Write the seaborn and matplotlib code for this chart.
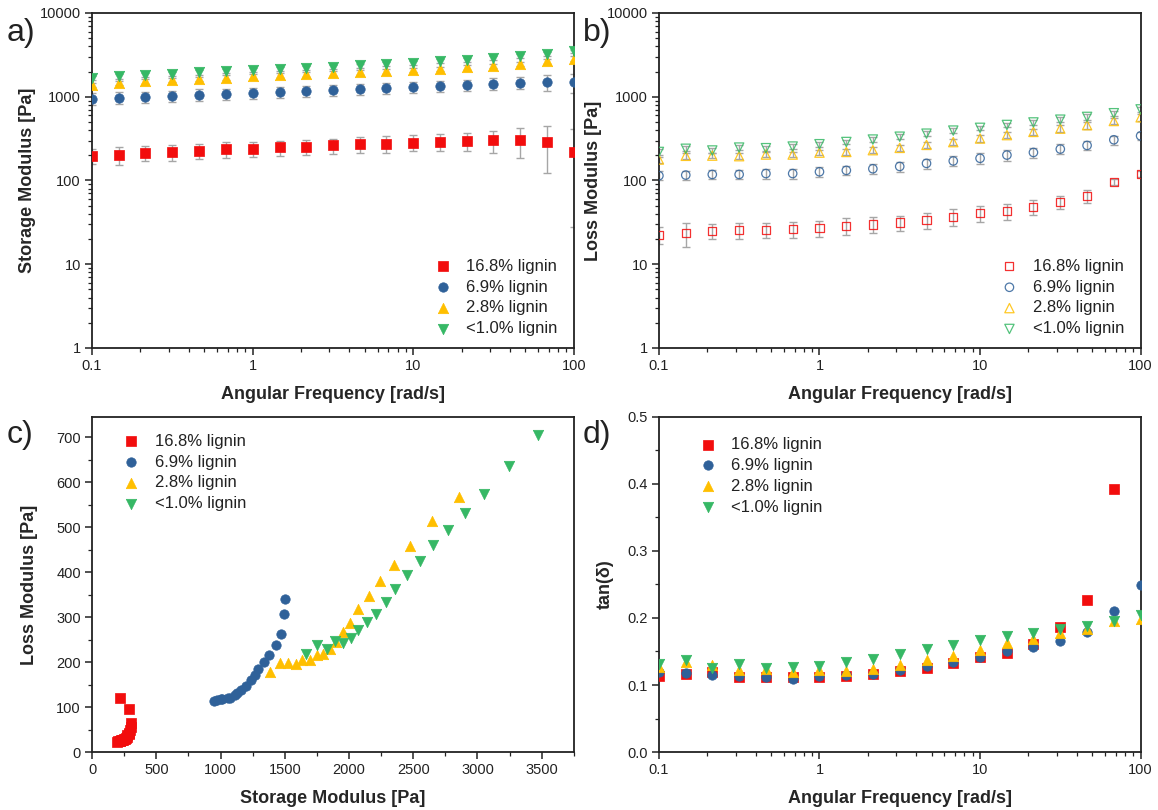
import numpy as np
import pandas as pd
import matplotlib
matplotlib.use("Agg")
import matplotlib.pyplot as plt
import seaborn as sns
from matplotlib.ticker import LogLocator, FixedLocator, MultipleLocator, NullFormatter, FuncFormatter

# ---------------- data ----------------
series = ["16.8% lignin", "6.9% lignin", "2.8% lignin", "<1.0% lignin"]
freq = [0.1, 0.147, 0.215, 0.316, 0.464, 0.681, 1.0, 1.47, 2.15, 3.16,
        4.64, 6.81, 10.0, 14.7, 21.5, 31.6, 46.4, 68.1, 100.0]

g1_168 = [197, 201, 214, 220, 226, 235, 239, 248, 253, 262, 269, 274, 284, 290, 295, 303, 303, 287, 218]
g1_69 = [949, 975, 1000, 1010, 1060, 1075, 1110, 1125, 1160, 1200, 1237, 1270, 1295, 1342, 1380, 1430, 1470, 1497, 1500]
g1_28 = [1386, 1461, 1527, 1585, 1636, 1694, 1749, 1798, 1852, 1901, 1953, 2005, 2074, 2152, 2241, 2351, 2475, 2645, 2858]
g1_10 = [1662, 1749, 1826, 1893, 1950, 2017, 2074, 2141, 2213, 2285, 2362, 2452, 2550, 2656, 2774, 2904, 3054, 3247, 3472]

g1_err_168 = [38, 48, 45, 48, 45, 50, 48, 50, 52, 55, 58, 62, 62, 65, 72, 92, 115, 165, 190]
g1_err_69 = [150, 150, 150, 150, 160, 160, 165, 170, 175, 185, 190, 200, 200, 210, 220, 230, 240, 320, 380]
g1_err_28 = [90, 90, 95, 95, 100, 100, 105, 105, 110, 110, 115, 120, 125, 130, 135, 140, 150, 160, 170]
g1_err_10 = [100, 100, 105, 105, 110, 110, 115, 120, 120, 125, 130, 135, 140, 145, 150, 160, 170, 180, 190]

g2_168 = [22.5, 23.5, 24.9, 25.3, 25.8, 26.3, 27.2, 28.8, 29.8, 31.5, 33.9, 37.1, 40.7, 43.0, 48.4, 55.5, 65.4, 96, 119]
g2_69 = [114, 116, 118, 118, 121, 121, 127, 132, 138, 147, 160, 171, 184, 201, 216, 237, 262, 306, 341]
g2_28 = [178, 197, 198, 195, 204, 204, 215, 219, 230, 245, 266, 287, 317, 348, 380, 416, 457, 513, 568]
g2_10 = [219, 239, 228, 247, 243, 254, 271, 288, 308, 333, 362, 394, 425, 460, 493, 532, 574, 635, 706]

g2_err_168 = [5, 7.5, 5, 5.5, 5.5, 5.5, 6, 6.5, 6.5, 6.5, 7.5, 8.5, 8.5, 9, 9.5, 10, 11, 8, 10]
g2_err_69 = [14, 14, 15, 15, 16, 16, 17, 17, 18, 20, 22, 24, 26, 28, 30, 32, 34, 38, 40]
g2_err_28 = [15, 15, 15, 15, 15, 15, 15, 18, 18, 20, 22, 24, 28, 30, 34, 38, 42, 46, 50]
g2_err_10 = [16, 16, 16, 16, 16, 17, 18, 19, 20, 22, 24, 26, 28, 30, 34, 38, 42, 46, 50]

tan_168 = [0.114, 0.116, 0.120, 0.112, 0.112, 0.112, 0.112, 0.114, 0.117, 0.121, 0.125, 0.133, 0.142, 0.148, 0.161, 0.187, 0.227, 0.392, 0.550]
tan_69 = [0.120, 0.118, 0.115, 0.113, 0.112, 0.109, 0.113, 0.115, 0.117, 0.122, 0.128, 0.134, 0.142, 0.150, 0.156, 0.166, 0.179, 0.210, 0.249]
tan_28 = [0.127, 0.134, 0.130, 0.122, 0.124, 0.119, 0.122, 0.121, 0.124, 0.130, 0.137, 0.143, 0.152, 0.162, 0.168, 0.177, 0.183, 0.195, 0.199]
tan_10 = [0.131, 0.138, 0.126, 0.131, 0.126, 0.127, 0.129, 0.134, 0.139, 0.146, 0.153, 0.160, 0.167, 0.173, 0.178, 0.183, 0.188, 0.196, 0.204]

# ---------------- style ----------------
colors = {"16.8% lignin": "#f20d0d", "6.9% lignin": "#2f6199",
          "2.8% lignin": "#ffbf00", "<1.0% lignin": "#36b865"}
markers = {"16.8% lignin": "s", "6.9% lignin": "o",
           "2.8% lignin": "^", "<1.0% lignin": "v"}
sizes = {"16.8% lignin": 42, "6.9% lignin": 46, "2.8% lignin": 56, "<1.0% lignin": 56}

sns.set_theme(style="ticks")
plt.rcParams["font.family"] = ["Liberation Sans", "DejaVu Sans"]
plt.rcParams.update({
    "axes.linewidth": 1.3,
    "xtick.major.width": 1.1, "ytick.major.width": 1.1,
    "xtick.minor.width": 0.9, "ytick.minor.width": 0.9,
    "xtick.major.size": 5, "ytick.major.size": 5,
    "xtick.minor.size": 3, "ytick.minor.size": 3,
    "xtick.labelsize": 10.5, "ytick.labelsize": 10.5,
    "axes.edgecolor": "#222222",
    "xtick.color": "#222222", "ytick.color": "#222222",
    "text.color": "#222222",
})

G1 = dict(zip(series, [g1_168, g1_69, g1_28, g1_10]))
G1E = dict(zip(series, [g1_err_168, g1_err_69, g1_err_28, g1_err_10]))
G2 = dict(zip(series, [g2_168, g2_69, g2_28, g2_10]))
G2E = dict(zip(series, [g2_err_168, g2_err_69, g2_err_28, g2_err_10]))
TAN = dict(zip(series, [tan_168, tan_69, tan_28, tan_10]))

rows = []
for s in series:
    for i, f in enumerate(freq):
        rows.append({"series": s, "freq": f, "G1": G1[s][i], "G1e": G1E[s][i],
                     "G2": G2[s][i], "G2e": G2E[s][i], "tan": TAN[s][i]})
df = pd.DataFrame(rows)

fig = plt.figure(figsize=(11.58, 8.10), dpi=100)
W, H = 0.416, 0.4136
ax_a = fig.add_axes([0.0795, 0.5704, W, H])
ax_b = fig.add_axes([0.569, 0.5704, W, H])
ax_c = fig.add_axes([0.0795, 0.0716, W, H])
ax_d = fig.add_axes([0.569, 0.0716, W, H])

err_kw = dict(fmt="none", ecolor="#a6a6a6", elinewidth=1.0, capsize=2.6, capthick=1.0, zorder=1)


def scatter(ax, xcol, ycol, hollow=False, zorder=3):
    for s in series:
        d = df[df["series"] == s]
        if hollow:
            sns.scatterplot(data=d, x=xcol, y=ycol, ax=ax,
                            marker=markers[s], s=sizes[s] * 0.8, facecolor="none",
                            edgecolor=colors[s], linewidth=0.9, alpha=0.85,
                            label=s, zorder=zorder, legend=False)
        else:
            sns.scatterplot(data=d, x=xcol, y=ycol, ax=ax, marker=markers[s],
                            s=sizes[s], color=colors[s], edgecolor=colors[s],
                            linewidth=0.5, label=s, zorder=zorder, legend=False)


def log_x(ax):
    ax.set_xscale("log")
    ax.set_xlim(0.1, 100)
    ax.xaxis.set_major_locator(FixedLocator([0.1, 1, 10, 100]))
    ax.xaxis.set_major_formatter(FuncFormatter(lambda v, p: f"{v:g}"))
    ax.xaxis.set_minor_locator(LogLocator(base=10, subs=np.arange(2, 10)))
    ax.xaxis.set_minor_formatter(NullFormatter())


def log_y(ax):
    ax.set_yscale("log")
    ax.set_ylim(1, 10000)
    ax.yaxis.set_major_locator(FixedLocator([1, 10, 100, 1000, 10000]))
    ax.yaxis.set_major_formatter(FuncFormatter(lambda v, p: f"{v:g}"))
    ax.yaxis.set_minor_locator(LogLocator(base=10, subs=np.arange(2, 10)))
    ax.yaxis.set_minor_formatter(NullFormatter())


lab_kw = dict(fontsize=13, fontweight="bold")
leg_kw = dict(frameon=False, fontsize=12, handletextpad=0.9, labelspacing=0.35,
              borderaxespad=0.3, handlelength=1.0)

# ---- a) storage modulus ----
for s in series:
    d = df[df["series"] == s]
    ax_a.errorbar(d["freq"], d["G1"], yerr=d["G1e"], **err_kw)
scatter(ax_a, "freq", "G1")
log_x(ax_a); log_y(ax_a)
ax_a.set_xlabel("Angular Frequency [rad/s]", labelpad=9, **lab_kw)
ax_a.set_ylabel("Storage Modulus [Pa]", labelpad=3, **lab_kw)
ax_a.legend(loc="lower right", bbox_to_anchor=(0.99, 0.0), **leg_kw)

# ---- b) loss modulus ----
for s in series:
    d = df[df["series"] == s]
    ax_b.errorbar(d["freq"], d["G2"], yerr=d["G2e"], **err_kw)
scatter(ax_b, "freq", "G2", hollow=True)
log_x(ax_b); log_y(ax_b)
ax_b.set_xlabel("Angular Frequency [rad/s]", labelpad=9, **lab_kw)
ax_b.set_ylabel("Loss Modulus [Pa]", labelpad=3, **lab_kw)
ax_b.legend(loc="lower right", bbox_to_anchor=(0.99, 0.0), **leg_kw)

# ---- c) G'' vs G' ----
scatter(ax_c, "G1", "G2")
ax_c.set_xlim(0, 3750)
ax_c.set_ylim(0, 745)
ax_c.xaxis.set_major_locator(MultipleLocator(500))
ax_c.xaxis.set_minor_locator(MultipleLocator(250))
ax_c.yaxis.set_major_locator(MultipleLocator(100))
ax_c.yaxis.set_minor_locator(MultipleLocator(50))
ax_c.set_xlabel("Storage Modulus [Pa]", labelpad=9, **lab_kw)
ax_c.set_ylabel("Loss Modulus [Pa]", labelpad=13, **lab_kw)
ax_c.legend(loc="upper left", bbox_to_anchor=(0.04, 0.985), **leg_kw)

# ---- d) tan delta ----
scatter(ax_d, "freq", "tan")
log_x(ax_d)
ax_d.set_ylim(0, 0.5)
ax_d.yaxis.set_major_locator(MultipleLocator(0.1))
ax_d.yaxis.set_minor_locator(MultipleLocator(0.05))
ax_d.yaxis.set_major_formatter(FuncFormatter(lambda v, p: f"{v:.1f}"))
ax_d.set_xlabel("Angular Frequency [rad/s]", labelpad=9, **lab_kw)
ax_d.set_ylabel("tan(δ)", labelpad=10, **lab_kw)
ax_d.legend(loc="upper left", bbox_to_anchor=(0.06, 0.975), **leg_kw)

for ax in (ax_a, ax_b, ax_c, ax_d):
    for sp in ax.spines.values():
        sp.set_visible(True)
    ax.tick_params(which="both", direction="out", top=False, right=False, pad=3)

for txt, x, y in [("a)", 0.006, 0.978), ("b)", 0.503, 0.978),
                  ("c)", 0.006, 0.482), ("d)", 0.503, 0.482)]:
    fig.text(x, y, txt, fontsize=23, va="top", ha="left")

fig.savefig("out.png", dpi=100)
